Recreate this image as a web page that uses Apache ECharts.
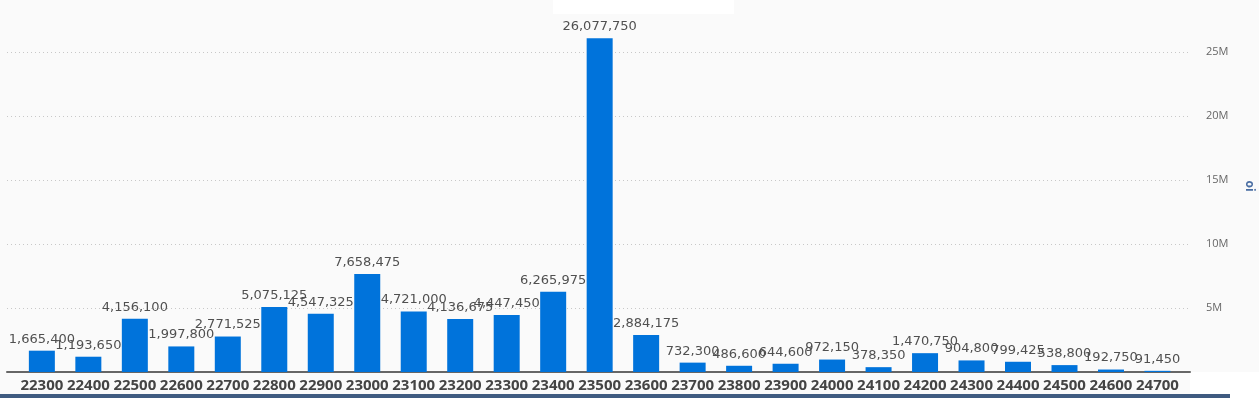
<!DOCTYPE html>
<html><head><meta charset="utf-8">
<script src="https://cdn.jsdelivr.net/npm/echarts@6/dist/echarts.min.js"></script>
<style>html,body{margin:0;padding:0;background:#fafafa;}#c{width:1259px;height:398px;}</style>
</head><body><div id="c"></div>
<script>
const strikes = [22300,22400,22500,22600,22700,22800,22900,23000,23100,23200,23300,23400,23500,23600,23700,23800,23900,24000,24100,24200,24300,24400,24500,24600,24700];
const oiValues = [1665400,1193650,4156100,1997800,2771525,5075125,4547325,7658475,4721000,4136675,4447450,6265975,26077750,2884175,732300,486600,644600,972150,378350,1470750,904800,799425,538800,192750,91450];
const yTicks = [5000000,10000000,15000000,20000000,25000000];

const chart = echarts.init(document.getElementById('c'), null, {renderer:'canvas'});
chart.setOption({
  backgroundColor:'#fafafa',
  animation:false,
  graphic:[
    {type:'rect', shape:{x:553,y:0,width:181,height:14}, style:{fill:'#ffffff'}, silent:true, z:-1},
    {type:'rect', shape:{x:1190,y:372,width:69,height:26}, style:{fill:'#ffffff'}, silent:true, z:-1},
    {type:'rect', shape:{x:0,y:394,width:1230,height:4}, style:{fill:'#3f5b80'}, silent:true, z:10}
  ],
  grid:{left:7, right:69, top:0, bottom:26, containLabel:false, outerBoundsMode:'none'},
  xAxis:{
    type:'value', min:22225, max:24770,
    axisLine:{show:true, onZero:false, lineStyle:{color:'#666', width:2}},
    axisTick:{show:false},
    splitLine:{show:false},
    axisLabel:{
      customValues: strikes,
      formatter: v => String(v),
      color:'#444', fontFamily:'Open Sans', fontWeight:'bold', fontSize:15, margin:6
    }
  },
  yAxis:{
    type:'value', position:'right', min:0, max:29062500, interval:5000000,
    name:'oi', nameLocation:'middle', nameRotate:-90, nameGap:53,
    nameTextStyle:{color:'#4a6ea3', fontWeight:'bold', fontSize:12, fontFamily:'Open Sans'},
    axisLine:{show:false}, axisTick:{show:false},
    axisLabel:{
      formatter: v => (yTicks.indexOf(v) >= 0 ? (v/1e6)+'M' : ''),
      color:'#666', fontSize:11, fontFamily:'Open Sans', margin:16
    },
    splitLine:{show:true, showMaxLine:false, showMinLine:false, lineStyle:{color:'#c8c8c8', type:[1,3], width:1}}
  },
  series:[{
    type:'bar',
    data: strikes.map((s,i)=>[s, oiValues[i]]),
    barWidth:26,
    itemStyle:{color:'#0073db'},
    label:{
      show:true, position:'top', distance:5,
      formatter: p => p.value[1].toLocaleString('en-US'),
      color:'#505050', fontSize:13, fontFamily:'DejaVu Sans'
    }
  }]
});
</script></body></html>
